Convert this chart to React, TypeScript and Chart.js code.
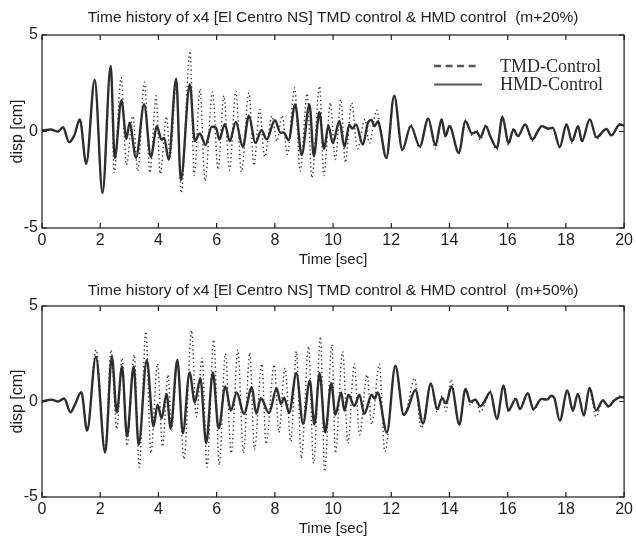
import React, { useEffect, useRef } from "react";
import { Chart, registerables } from "chart.js";

Chart.register(...registerables);

// ---------- data ----------
const X_MIN = 0;
const X_MAX = 20;
const X_STEP = 2;
const Y_MIN = -5;
const Y_MAX = 5;
const Y_STEP = 5;

const TITLE_TOP = "Time history of x4 [El Centro NS] TMD control & HMD control  (m+20%)";
const TITLE_BOTTOM = "Time history of x4 [El Centro NS] TMD control & HMD control  (m+50%)";
const X_LABEL = "Time [sec]";
const Y_LABEL = "disp [cm]";
const SERIES = ["TMD-Control", "HMD-Control"];

// [time (s), displacement (cm)] — extrema
const TMD_TOP: [number, number][] = [
  [0, 0.05], [0.3, 0.1], [0.55, 0], [0.72, 0.22], [0.93, -0.55], [1.11, -0.2], [1.3, 0.62], [1.52, -1.67],
  [1.81, 2.69], [2.08, -3.18], [2.36, 3.4], [2.48, -2.14], [2.72, 2.8], [2.9, -1.73], [3.12, 0.8], [3.29, -2.05],
  [3.52, 2.55], [3.71, -2.14], [3.92, 1.85], [4.06, -2.2], [4.28, 0.77], [4.4, -1.3], [4.62, 2.6], [4.78, -3.18],
  [5.09, 4.16], [5.23, -2.28], [5.43, 2.2], [5.6, -2.57], [5.86, 2.05], [6.05, -1.97], [6.25, 1.85], [6.44, -2.0],
  [6.66, 2.09], [6.85, -2.1], [7.11, 2.0], [7.28, -1.76], [7.48, 1.14], [7.65, -1.31], [7.9, 0.8], [8.07, -0.5],
  [8.25, 0.83], [8.43, -1.19], [8.68, 2.26], [8.87, -2.05], [9.11, 1.97], [9.27, -2.4], [9.54, 2.35], [9.68, -2.28],
  [9.91, 1.49], [10.08, -1.45], [10.27, 1.66], [10.42, -1.61], [10.64, 1.49], [10.84, -0.9], [11.09, 0.62], [11.25, -0.6],
  [11.5, 1.1], [11.62, 0.2], [11.85, -1.4], [12.1, 1.85], [12.38, -1.0], [12.67, 0.35], [12.98, -0.85], [13.27, 0.72],
  [13.52, -0.9], [13.73, 0.7], [13.86, -0.3], [14.0, 0.35], [14.32, -1.15], [14.55, 0.6], [14.77, -0.2], [14.94, 0.05],
  [15.06, -0.45], [15.25, 0.35], [15.4, -0.2], [15.63, -0.95], [15.82, 0.8], [16.03, -0.7], [16.2, 0.15], [16.35, -0.3],
  [16.6, 0.4], [16.85, -0.5], [17.03, 0.05], [17.17, 0.3], [17.4, 0.1], [17.55, 0.15], [17.79, -0.85], [18.02, 0.4],
  [18.21, -0.6], [18.42, 0.3], [18.55, -0.55], [18.82, 0.65], [19.05, -0.4], [19.39, 0.15], [19.56, -0.25], [19.85, 0.4],
  [20, 0.3],
];

const HMD_TOP: [number, number][] = [
  [0, 0.05], [0.3, 0.1], [0.55, 0], [0.72, 0.22], [0.93, -0.55], [1.11, -0.2], [1.3, 0.62], [1.52, -1.67],
  [1.81, 2.69], [2.08, -3.18], [2.36, 3.4], [2.5, -1.36], [2.73, 1.62], [2.9, -0.38], [3.01, 0.45], [3.23, -1.36],
  [3.51, 1.4], [3.74, -1.31], [3.95, 0.28], [4.1, -0.42], [4.2, -0.33], [4.35, -1.46], [4.61, 2.73], [4.77, -2.52],
  [5.08, 2.45], [5.25, -0.5], [5.42, -0.1], [5.62, -0.7], [5.83, 0.25], [5.98, 0.2], [6.09, -0.42], [6.28, 0.38],
  [6.45, -0.5], [6.66, 0.5], [6.9, -0.8], [7.11, 0.82], [7.33, -0.6], [7.54, 0.07], [7.72, -0.41], [8.0, 0.58],
  [8.2, -0.07], [8.3, -0.05], [8.47, -0.45], [8.7, 1.4], [8.92, -1.22], [9.19, 1.4], [9.34, -1.28], [9.53, 1.0],
  [9.69, -0.9], [9.84, 0.3], [9.99, -0.6], [10.22, 0.55], [10.39, -0.8], [10.56, 0.35], [10.66, 0.15], [10.79, 0.36],
  [11.02, -0.68], [11.2, 0.45], [11.32, 0.6], [11.42, 0.28], [11.55, 0.53], [11.62, 0.14], [11.83, -1.37], [12.1, 1.85],
  [12.38, -0.95], [12.67, 0.28], [12.98, -0.77], [13.27, 0.66], [13.52, -0.71], [13.73, 0.63], [13.86, -0.24], [14.0, 0.28],
  [14.32, -1.1], [14.55, 0.53], [14.77, -0.1], [14.94, -0.02], [15.06, -0.3], [15.25, 0.28], [15.4, -0.24], [15.63, -0.85],
  [15.82, 0.76], [16.03, -0.6], [16.2, 0.1], [16.35, -0.24], [16.6, 0.36], [16.85, -0.42], [17.03, 0], [17.17, 0.28],
  [17.4, 0.15], [17.55, 0.2], [17.79, -0.8], [18.02, 0.36], [18.21, -0.5], [18.42, 0.28], [18.55, -0.5], [18.82, 0.63],
  [19.05, -0.3], [19.39, 0.13], [19.56, -0.2], [19.85, 0.36], [20, 0.3],
];

const TMD_BOTTOM: [number, number][] = [
  [0, 0], [0.33, 0.1], [0.55, 0], [0.76, 0.16], [0.98, -0.56], [1.12, -0.2], [1.35, 0.49], [1.55, -1.52],
  [1.86, 2.7], [2.17, -2.6], [2.37, 2.7], [2.57, -1.45], [2.75, 2.27], [2.92, -2.32], [3.17, 2.44], [3.34, -3.44],
  [3.57, 3.66], [3.74, -2.7], [3.97, 1.97], [4.14, -2.36], [4.33, 1.4], [4.45, -1.5], [4.65, 2.2], [4.88, -3.02],
  [5.14, 3.72], [5.3, -0.8], [5.5, 2.27], [5.67, -3.44], [5.9, 3.23], [6.09, -3.32], [6.3, 2.5], [6.5, -2.7],
  [6.73, 2.7], [6.92, -2.7], [7.14, 2.55], [7.3, -2.53], [7.55, 1.97], [7.7, -2.22], [7.98, 1.93], [8.14, -1.62],
  [8.35, 1.75], [8.55, -2.09], [8.74, 2.62], [8.91, -2.97], [9.16, 2.88], [9.33, -3.23], [9.57, 3.4], [9.71, -3.66],
  [9.96, 2.97], [10.08, -2.7], [10.33, 2.62], [10.51, -2.2], [10.73, 1.97], [10.91, -1.75], [11.17, 1.4], [11.33, -1.2],
  [11.59, 1.97], [11.78, -2.62], [12.14, 1.85], [12.43, -0.7], [12.55, -0.3], [12.8, 1.22], [13.03, -1.4], [13.36, 0.9],
  [13.58, -0.55], [13.75, 0.3], [13.88, -0.5], [14.05, 1.15], [14.34, -1.25], [14.55, 0.7], [14.72, -0.2], [14.89, 0.1],
  [15.06, -0.55], [15.2, -0.2], [15.4, 0.55], [15.63, -0.95], [15.86, 0.8], [16.02, -0.55], [16.28, 0.2], [16.42, -0.4],
  [16.69, 0.45], [16.88, -0.45], [17.16, 0.1], [17.35, 0.1], [17.5, 0.25], [17.6, 0.15], [17.79, -0.95], [18.05, 0.55],
  [18.24, -0.5], [18.41, 0.35], [18.62, -0.75], [18.81, 0.6], [19.04, -0.8], [19.27, 0.1], [19.46, -0.3], [19.66, 0.1],
  [19.89, 0.3], [20, 0.25],
];

const HMD_BOTTOM: [number, number][] = [
  [0, 0], [0.33, 0.1], [0.55, 0], [0.76, 0.16], [0.98, -0.56], [1.12, -0.2], [1.35, 0.49], [1.55, -1.52],
  [1.85, 2.34], [2.17, -2.67], [2.4, 2.36], [2.57, -0.58], [2.75, 1.83], [2.92, -1.83], [3.15, 1.83], [3.32, -2.27],
  [3.6, 2.18], [3.83, -1.31], [3.97, -0.17], [4.11, -0.87], [4.28, 0.4], [4.42, -1.41], [4.65, 2.18], [4.84, -1.66],
  [5.07, 1.52], [5.25, -0.05], [5.44, 1.22], [5.64, -2.18], [5.87, 1.52], [6.07, -1.41], [6.3, 0.79], [6.49, -0.47],
  [6.69, 0.47], [6.94, -0.64], [7.21, 0.75], [7.36, -0.64], [7.52, 0.17], [7.8, -0.6], [8.06, 0.69], [8.21, -0.12],
  [8.32, 0.2], [8.49, -0.6], [8.74, 1.48], [8.97, -1.17], [9.2, 1.1], [9.36, -1.2], [9.54, 1.48], [9.73, -1.62],
  [9.94, 0.96], [10.08, -0.69], [10.28, 0.47], [10.39, -0.48], [10.53, 0.35], [10.73, -0.23], [10.91, 0.35], [11.07, -0.65],
  [11.33, 0.35], [11.43, 0.15], [11.53, 0.47], [11.85, -1.62], [12.14, 1.88], [12.43, -0.7], [12.55, -0.45], [12.83, 0.6],
  [13.09, -1.15], [13.36, 0.95], [13.58, -0.4], [13.75, 0.19], [13.88, -0.1], [14.07, 0.79], [14.34, -1.2], [14.55, 0.66],
  [14.72, -0.02], [14.89, 0.09], [15.06, -0.25], [15.2, 0], [15.4, 0.49], [15.63, -0.91], [15.86, 0.84], [16.02, -0.47],
  [16.28, 0.14], [16.42, -0.4], [16.69, 0.44], [16.88, -0.4], [17.16, 0.14], [17.35, 0.1], [17.5, 0.3], [17.6, 0.2],
  [17.79, -1.0], [18.05, 0.58], [18.24, -0.47], [18.41, 0.4], [18.62, -0.73], [18.81, 0.72], [19.04, -0.47], [19.27, 0.05],
  [19.46, -0.25], [19.66, 0.05], [19.89, 0.23], [20, 0.2],
];

// ---------- styling ----------
const SANS = "'Liberation Sans', Arial, Helvetica, sans-serif";
const SERIF = "'Liberation Serif', 'Times New Roman', serif";
const INK = "#1c1c1c";
const LINE_DARK = "#2e2e2e";

// frame + inward ticks (MATLAB box style)
const framePlugin = {
  id: "matlabFrame",
  afterDatasetsDraw(chart: any) {
    const { ctx, chartArea, scales } = chart;
    const { left, right, top, bottom } = chartArea;
    ctx.save();
    ctx.strokeStyle = INK;
    ctx.lineWidth = 1.2;
    ctx.strokeRect(left, top, right - left, bottom - top);
    const tl = 5;
    ctx.beginPath();
    scales.x.ticks.forEach((t: any) => {
      const px = scales.x.getPixelForValue(t.value);
      ctx.moveTo(px, bottom);
      ctx.lineTo(px, bottom - tl);
      ctx.moveTo(px, top);
      ctx.lineTo(px, top + tl);
    });
    scales.y.ticks.forEach((t: any) => {
      const py = scales.y.getPixelForValue(t.value);
      ctx.moveTo(left, py);
      ctx.lineTo(left + tl, py);
      ctx.moveTo(right, py);
      ctx.lineTo(right - tl, py);
    });
    ctx.stroke();
    ctx.restore();
  },
};

// inset legend (upper right inside the axes)
const insetLegendPlugin = {
  id: "insetLegend",
  afterDatasetsDraw(chart: any, _args: any, opts: any) {
    if (!opts || !opts.show) return;
    const { ctx, chartArea } = chart;
    const sx0 = chartArea.right - 190;
    const textX = chartArea.right - 124;
    ctx.save();
    chart.data.datasets.forEach((ds: any, i: number) => {
      const y = chartArea.top + 31 + i * 18.5;
      ctx.beginPath();
      ctx.strokeStyle = "#555";
      if (i === 0) {
        ctx.lineWidth = 2.4;
        ctx.setLineDash([7, 4.5]);
        ctx.moveTo(sx0, y);
        ctx.lineTo(sx0 + 44, y);
      } else {
        ctx.lineWidth = 2;
        ctx.setLineDash([]);
        ctx.moveTo(sx0, y);
        ctx.lineTo(sx0 + 48, y);
      }
      ctx.stroke();
      ctx.setLineDash([]);
      ctx.fillStyle = "#2a2a2a";
      ctx.font = `18px ${SERIF}`;
      ctx.textAlign = "left";
      ctx.textBaseline = "middle";
      ctx.fillText(ds.label, textX, y + 1);
    });
    ctx.restore();
  },
};

type PanelProps = {
  title: string;
  tmd: [number, number][];
  hmd: [number, number][];
  height: number;
  plotTop: number;
  plotBottom: number;
  titlePadTop: number;
  xTitlePad: number;
  showLegend: boolean;
};

function Panel(p: PanelProps) {
  const ref = useRef<HTMLCanvasElement | null>(null);
  useEffect(() => {
    if (!ref.current) return;
    const titleSize = 15.5;
    const titleLH = titleSize * 1.2;
    const chart = new Chart(ref.current, {
      type: "line",
      data: {
        datasets: [
          {
            label: SERIES[0],
            data: p.tmd.map(([x, y]) => ({ x, y })),
            borderColor: "#3a3a3a",
            borderWidth: 1.4,
            borderDash: [1.4, 2.8],
            pointRadius: 0,
            cubicInterpolationMode: "monotone",
            fill: false,
            order: 1,
          },
          {
            label: SERIES[1],
            data: p.hmd.map(([x, y]) => ({ x, y })),
            borderColor: LINE_DARK,
            borderWidth: 2.4,
            pointRadius: 0,
            cubicInterpolationMode: "monotone",
            fill: false,
            order: 0,
          },
        ],
      },
      options: {
        animation: false,
        responsive: false,
        maintainAspectRatio: false,
        events: [],
        layout: { padding: { left: 0, right: 10, top: 0, bottom: 0 } },
        scales: {
          x: {
            type: "linear",
            min: X_MIN,
            max: X_MAX,
            afterFit: (s: any) => {
              s.height = p.height - p.plotBottom;
            },
            ticks: {
              stepSize: X_STEP,
              autoSkip: false,
              maxRotation: 0,
              color: INK,
              padding: 3,
              font: { family: SANS, size: 16 },
            },
            grid: { display: false, drawTicks: false },
            border: { display: false },
            title: {
              display: true,
              text: X_LABEL,
              color: INK,
              font: { family: SANS, size: 15 },
              padding: { top: 0, bottom: p.xTitlePad },
            },
          },
          y: {
            min: Y_MIN,
            max: Y_MAX,
            afterFit: (s: any) => {
              s.width = 42;
            },
            ticks: {
              stepSize: Y_STEP,
              color: INK,
              padding: 4,
              font: { family: SANS, size: 16 },
            },
            grid: { display: false, drawTicks: false },
            border: { display: false },
            title: {
              display: true,
              text: Y_LABEL,
              color: INK,
              font: { family: SANS, size: 16 },
              padding: { top: 8, bottom: 0 },
            },
          },
        },
        plugins: {
          legend: { display: false },
          tooltip: { enabled: false },
          title: {
            display: true,
            text: p.title,
            fullSize: false,
            color: "#222",
            font: { family: SANS, size: titleSize, weight: "normal" },
            padding: { top: p.titlePadTop, bottom: p.plotTop - p.titlePadTop - titleLH },
          },
          insetLegend: { show: p.showLegend },
        } as any,
      },
      plugins: [framePlugin, insetLegendPlugin],
    } as any);
    return () => chart.destroy();
  }, []);
  return <canvas ref={ref} width={636} height={p.height} style={{ display: "block" }} />;
}

export default function App() {
  return (
    <div style={{ position: "absolute", left: 0, top: 0, width: 636, height: 539, background: "#fff" }}>
      <Panel
        title={TITLE_TOP}
        tmd={TMD_TOP}
        hmd={HMD_TOP}
        height={270}
        plotTop={35}
        plotBottom={228}
        titlePadTop={8}
        xTitlePad={1}
        showLegend={true}
      />
      <Panel
        title={TITLE_BOTTOM}
        tmd={TMD_BOTTOM}
        hmd={HMD_BOTTOM}
        height={269}
        plotTop={36}
        plotBottom={227}
        titlePadTop={11}
        xTitlePad={1}
        showLegend={false}
      />
    </div>
  );
}
